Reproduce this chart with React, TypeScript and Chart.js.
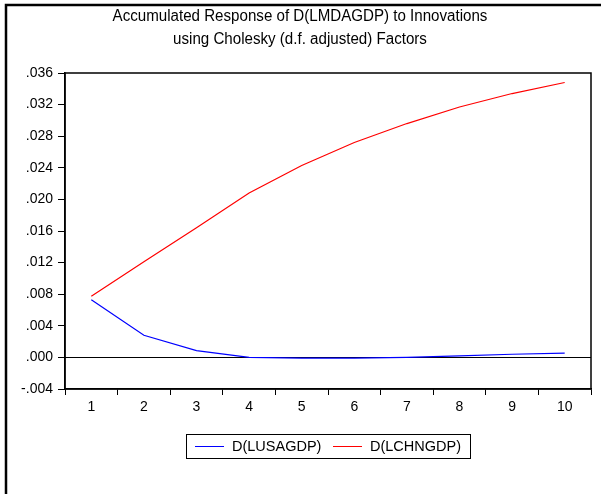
import React, { useEffect, useRef } from "react";
import { Chart, registerables } from "chart.js";

Chart.register(...registerables);

const periods = ["1", "2", "3", "4", "5", "6", "7", "8", "9", "10"];
const usaValues = [0.0073, 0.0028, 0.00085, 0.0, -0.0001, -0.0001, 0.0, 0.0002, 0.0004, 0.00055];
const chnValues = [0.00775, 0.0121, 0.0164, 0.0208, 0.0243, 0.0272, 0.0296, 0.0317, 0.0334, 0.0348];
const seriesLabels = ["D(LUSAGDP)", "D(LCHNGDP)"];
const seriesColors = ["#0000ff", "#ff0000"];
const titleLines = [
  "Accumulated Response of D(LMDAGDP) to Innovations",
  "using Cholesky (d.f. adjusted) Factors",
];
const yMin = -0.004;
const yMax = 0.036;
const yStep = 0.004;

const FONT = "'Liberation Sans', Arial, Helvetica, sans-serif";

function fmtTick(v: number): string {
  if (Math.abs(v) < 1e-9) return ".000";
  const s = v.toFixed(3);
  return s.replace(/^(-?)0\./, "$1.");
}

const decorPlugin = {
  id: "decor",
  beforeDatasetsDraw(chart: any) {
    const { ctx, chartArea } = chart;
    const y0 = chart.scales.y.getPixelForValue(0);
    ctx.save();
    ctx.strokeStyle = "#000";
    ctx.lineWidth = 1;
    ctx.beginPath();
    ctx.moveTo(chartArea.left, Math.round(y0) + 0.5);
    ctx.lineTo(chartArea.right, Math.round(y0) + 0.5);
    ctx.stroke();
    ctx.restore();
  },
  afterDraw(chart: any) {
    const { ctx, chartArea } = chart;
    ctx.save();
    // plot border
    ctx.strokeStyle = "#000";
    ctx.lineWidth = 1.5;
    ctx.strokeRect(chartArea.left, chartArea.top, chartArea.right - chartArea.left, chartArea.bottom - chartArea.top);
    // outer frame (left and top)
    ctx.lineWidth = 2.5;
    ctx.beginPath();
    ctx.moveTo(6, 600);
    ctx.lineTo(6, 5);
    ctx.lineTo(700, 5);
    ctx.stroke();
    // title (slightly condensed)
    ctx.fillStyle = "#000";
    ctx.font = `16px ${FONT}`;
    ctx.textAlign = "center";
    ctx.textBaseline = "middle";
    [17, 40].forEach((ty, i) => {
      ctx.save();
      ctx.translate(300, ty);
      ctx.scale(0.945, 1);
      ctx.fillText(titleLines[i], 0, 0);
      ctx.restore();
    });
    // legend
    const bx = 186, by = 434, bw = 284, bh = 24;
    ctx.lineWidth = 1;
    ctx.strokeStyle = "#000";
    ctx.strokeRect(bx + 0.5, by + 0.5, bw, bh);
    ctx.font = `14.5px ${FONT}`;
    ctx.textAlign = "left";
    const ly = by + 12.5;
    const items = [
      { x: 195, tx: 232 },
      { x: 333, tx: 370 },
    ];
    items.forEach((it, i) => {
      ctx.strokeStyle = seriesColors[i];
      ctx.lineWidth = 1;
      ctx.beginPath();
      ctx.moveTo(it.x, ly);
      ctx.lineTo(it.x + 29, ly);
      ctx.stroke();
      ctx.fillStyle = "#000";
      ctx.fillText(seriesLabels[i], it.tx, ly);
    });
    ctx.restore();
  },
};

export default function App() {
  const ref = useRef<HTMLCanvasElement | null>(null);
  useEffect(() => {
    document.body.style.margin = "0";
    const canvas = ref.current;
    if (!canvas) return;
    const chart = new Chart(canvas, {
      type: "line",
      data: {
        labels: periods,
        datasets: [
          {
            label: seriesLabels[0],
            data: usaValues,
            borderColor: seriesColors[0],
            borderWidth: 1.2,
            pointRadius: 0,
            tension: 0,
            fill: false,
          },
          {
            label: seriesLabels[1],
            data: chnValues,
            borderColor: seriesColors[1],
            borderWidth: 1.2,
            pointRadius: 0,
            tension: 0,
            fill: false,
          },
        ],
      },
      options: {
        responsive: false,
        animation: false,
        events: [],
        layout: { padding: { left: 0, right: 10, top: 73, bottom: 75 } },
        plugins: {
          legend: { display: false },
          tooltip: { enabled: false },
          title: { display: false },
        },
        scales: {
          x: {
            type: "category",
            offset: true,
            grid: { offset: true, drawOnChartArea: false, tickLength: 6, color: "#000", lineWidth: 1 },
            border: { display: true, color: "#000", width: 1.5 },
            ticks: { color: "#000", padding: 4, font: { size: 14, family: FONT }, maxRotation: 0 },
            afterFit(scale: any) {
              scale.height = 30;
            },
          },
          y: {
            min: yMin,
            max: yMax,
            grid: { drawOnChartArea: false, tickLength: 7, color: "#000", lineWidth: 1 },
            border: { display: true, color: "#000", width: 1.5 },
            ticks: {
              stepSize: yStep,
              color: "#000",
              padding: 5,
              font: { size: 14, family: FONT },
              callback: (v: any) => fmtTick(Number(v)),
            },
            afterFit(scale: any) {
              scale.width = 65;
            },
          },
        },
      },
      plugins: [decorPlugin],
    } as any);
    return () => chart.destroy();
  }, []);
  return <canvas ref={ref} width={601} height={494} style={{ display: "block" }} />;
}
